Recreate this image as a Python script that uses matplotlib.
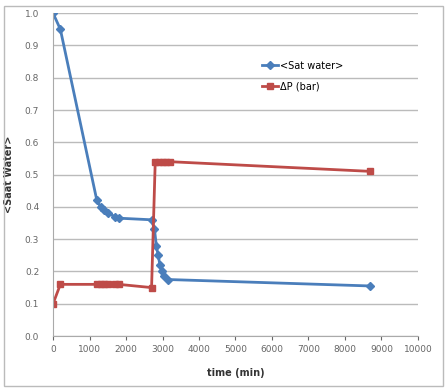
import matplotlib.pyplot as plt
from matplotlib.patches import Rectangle

# saturation of water and pressure drop over time
time_sat = [0, 200, 1200, 1300, 1400, 1500, 1700, 1800, 2700, 2780, 2830, 2880, 2930, 2980, 3050, 3150, 8700]
sat_water = [1.0, 0.95, 0.42, 0.40, 0.39, 0.38, 0.37, 0.365, 0.36, 0.33, 0.28, 0.25, 0.22, 0.20, 0.185, 0.175, 0.155]

time_dp = [0, 200, 1200, 1300, 1400, 1500, 1700, 1800, 2700, 2800, 2900, 3000, 3100, 3200, 8700]
dp_bar = [0.10, 0.16, 0.16, 0.16, 0.16, 0.16, 0.16, 0.16, 0.15, 0.54, 0.54, 0.54, 0.54, 0.54, 0.51]

x_ticks = list(range(0, 10001, 1000))
y_ticks = [i / 10 for i in range(11)]

fig = plt.figure(figsize=(4.46, 3.88), dpi=100)
ax = fig.add_axes([0.119, 0.134, 0.818, 0.832])

ax.plot(time_sat, sat_water, color='#4A7EBB', lw=2, marker='D', ms=4, label='<Sat water>')
ax.plot(time_dp, dp_bar, color='#BE4B48', lw=2, marker='s', ms=5, label='\u0394P (bar)')

ax.set_xlim(0, 10000)
ax.set_ylim(0, 1.0)
ax.set_xticks(x_ticks)
ax.set_yticks(y_ticks)
ax.set_yticklabels(['%.1f' % v for v in y_ticks])
ax.tick_params(labelsize=6.5, colors='#666666', length=3)
ax.tick_params(axis='y', length=0, pad=10)
ax.grid(axis='y', color='#BBBBBB', lw=1)
ax.set_axisbelow(True)
for s in ['top', 'right']:
    ax.spines[s].set_visible(False)
ax.spines['left'].set_color('#AAAAAA')
ax.spines['bottom'].set_color('#AAAAAA')

ax.set_xlabel('time (min)', fontsize=7, fontweight='bold', color='#333333', labelpad=10)
ax.set_ylabel('<Saat Water>', fontsize=7, fontweight='bold', color='#333333', labelpad=8)

ax.legend(loc='upper left', bbox_to_anchor=(0.55, 0.88), frameon=False, fontsize=7,
          handlelength=1.6, labelspacing=1.1, handletextpad=0.2)

# chart border
fig.patches.append(Rectangle((0.008, 0.005), 0.985, 0.98, transform=fig.transFigure,
                             fill=False, ec='#BBBBBB', lw=1))

fig.savefig('out.png', dpi=100)
